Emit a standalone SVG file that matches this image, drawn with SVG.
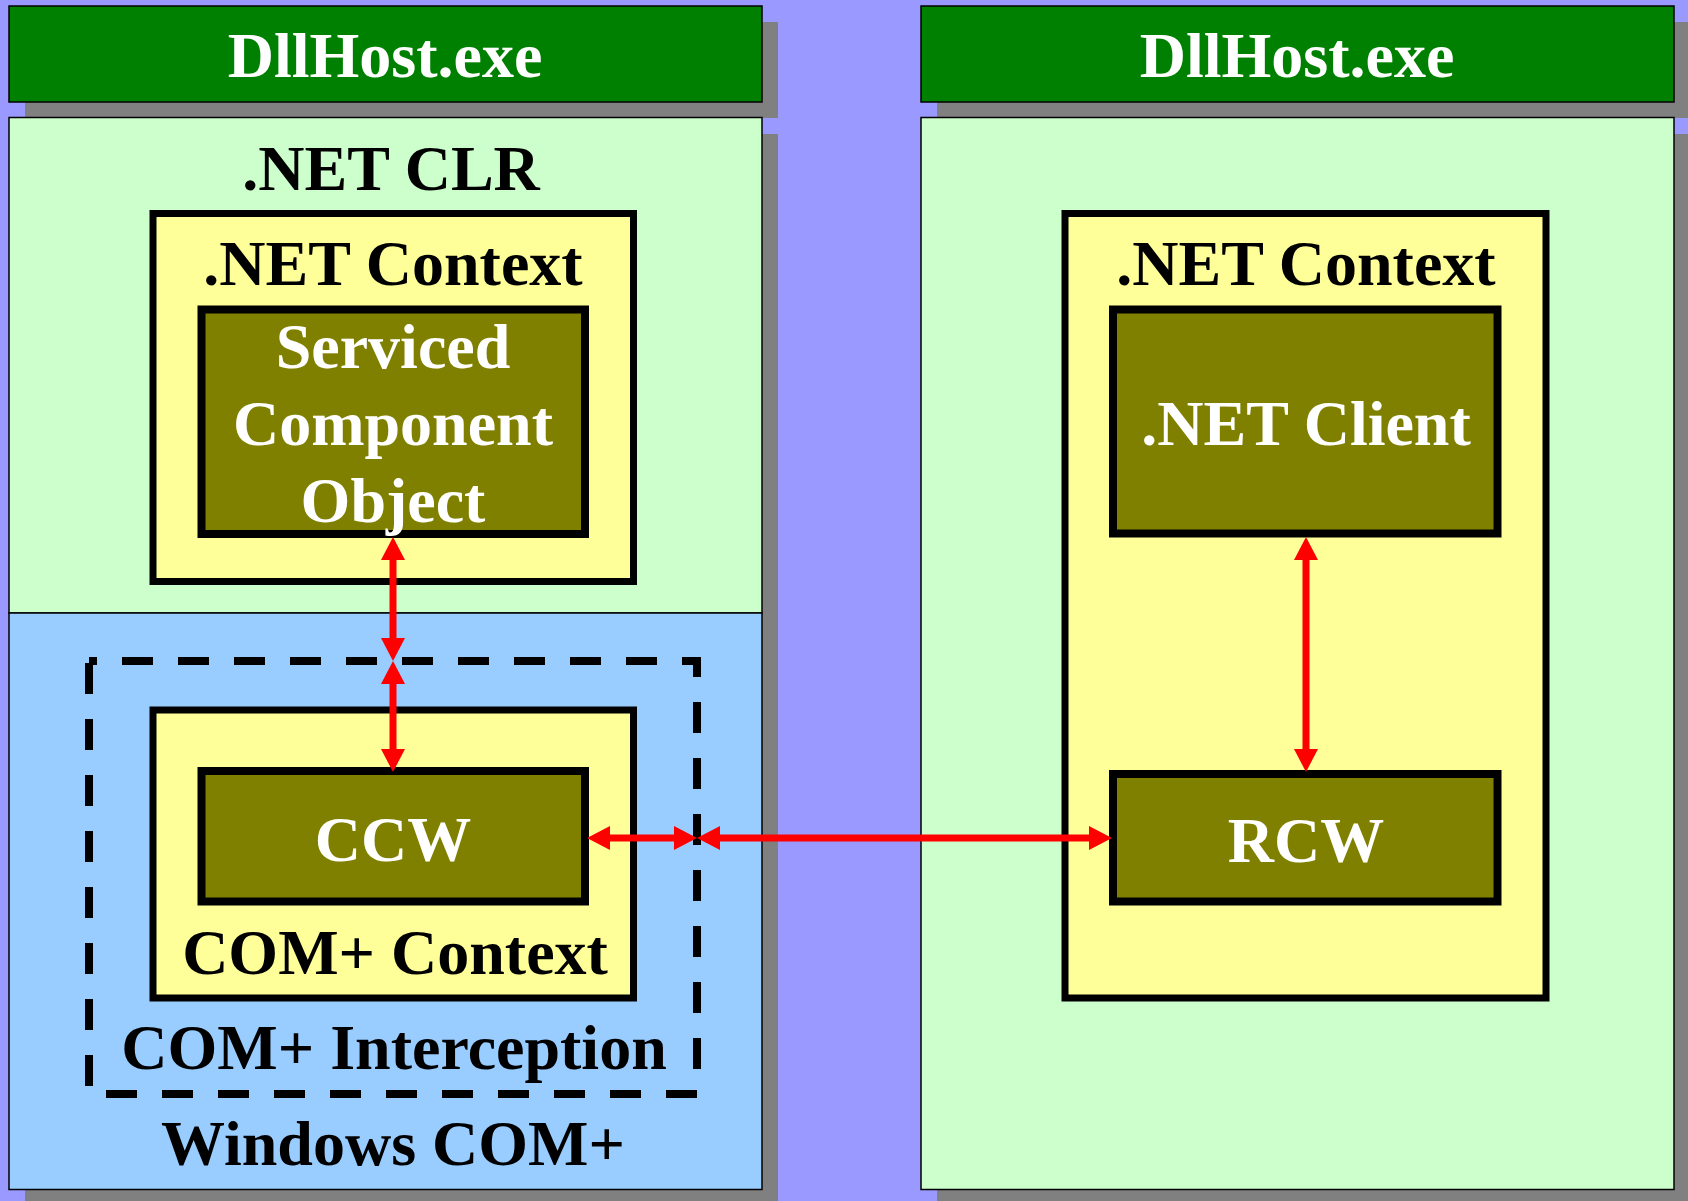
<svg xmlns="http://www.w3.org/2000/svg" width="1688" height="1201" viewBox="0 0 1688 1201">
  <style>
    .t { font-family: "Liberation Serif", "Times New Roman", serif; font-weight: bold; font-size: 64px; text-anchor: middle; }
    .w { fill: #ffffff; }
    .k { fill: #000000; }
    .shadow { fill: #808080; }
    .hdr { fill: #008000; stroke: #000000; stroke-width: 1.5; }
    .clr { fill: #ccffcc; stroke: #000000; stroke-width: 1.5; }
    .com { fill: #99ccff; stroke: #000000; stroke-width: 1.5; }
    .ctx { fill: #ffff99; stroke: #000000; stroke-width: 7; }
    .obj { fill: #808000; stroke: #000000; stroke-width: 8; }
    .dash { fill: none; stroke: #000000; stroke-width: 8; stroke-dasharray: 31 25; stroke-dashoffset: 23; }
    .conn { stroke: #ff0000; stroke-width: 7; fill: none; marker-start: url(#ah); marker-end: url(#ah); }
  </style>
  <defs>
    <marker id="ah" viewBox="0 0 23 24" markerWidth="23" markerHeight="24" markerUnits="userSpaceOnUse" refX="3" refY="12" orient="auto-start-reverse">
      <path d="M0,0 L23,12 L0,24 z" fill="#ff0000"/>
    </marker>
  </defs>
  <rect x="0" y="0" width="1688" height="1201" fill="#9999ff"/>

  <g id="left-host-header">
    <rect class="shadow" x="25" y="22" width="753" height="96"/>
    <rect class="hdr" x="9" y="6" width="753" height="96"/>
    <text class="t w" x="385" y="77">DllHost.exe</text>
  </g>

  <g id="left-host-body">
    <rect class="shadow" x="25" y="134" width="753" height="1072"/>
    <rect class="clr" x="9" y="117.5" width="753" height="495.5"/>
    <rect class="com" x="9" y="613" width="753" height="576.5"/>
    <text class="t k" x="391" y="190">.NET CLR</text>
    <text class="t k" x="393" y="1165">Windows COM+</text>
  </g>

  <g id="left-net-context">
    <rect class="ctx" x="153" y="213.5" width="480.5" height="368"/>
    <text class="t k" x="393" y="285">.NET Context</text>
  </g>

  <g id="serviced-component">
    <rect class="obj" x="201.5" y="309.5" width="383.5" height="224.5"/>
    <text class="t w" x="393" y="368">Serviced</text>
    <text class="t w" x="393" y="445">Component</text>
    <text class="t w" x="393" y="522">Object</text>
  </g>

  <g id="com-interception">
    <path class="dash" d="M89,661 H697 V1094 H89 Z"/>
    <text class="t k" x="394" y="1069">COM+ Interception</text>
  </g>

  <g id="com-context">
    <rect class="ctx" x="153" y="710" width="480.5" height="288"/>
    <text class="t k" x="395" y="974">COM+ Context</text>
  </g>

  <g id="ccw">
    <rect class="obj" x="201.5" y="771" width="383.5" height="130.5"/>
    <text class="t w" x="393" y="861">CCW</text>
  </g>

  <g id="right-host-header">
    <rect class="shadow" x="937" y="22" width="753" height="96"/>
    <rect class="hdr" x="921" y="6" width="753" height="96"/>
    <text class="t w" x="1297" y="77">DllHost.exe</text>
  </g>

  <g id="right-host-body">
    <rect class="shadow" x="937" y="134" width="753" height="1072"/>
    <rect class="clr" x="921" y="117.5" width="753" height="1072"/>
  </g>

  <g id="right-net-context">
    <rect class="ctx" x="1065" y="213.5" width="481" height="784.5"/>
    <text class="t k" x="1306" y="285">.NET Context</text>
  </g>

  <g id="net-client">
    <rect class="obj" x="1113" y="309.5" width="384.5" height="224"/>
    <text class="t w" x="1306" y="445">.NET Client</text>
  </g>

  <g id="rcw">
    <rect class="obj" x="1113" y="774" width="384.5" height="127.5"/>
    <text class="t w" x="1306" y="862">RCW</text>
  </g>

  <g id="connectors">
    <line class="conn" x1="393" y1="557" x2="393" y2="641"/>
    <line class="conn" x1="393" y1="681" x2="393" y2="752"/>
    <line class="conn" x1="607" y1="838" x2="677" y2="838"/>
    <line class="conn" x1="717" y1="838" x2="1092" y2="838"/>
    <line class="conn" x1="1306" y1="557" x2="1306" y2="752"/>
  </g>
</svg>
